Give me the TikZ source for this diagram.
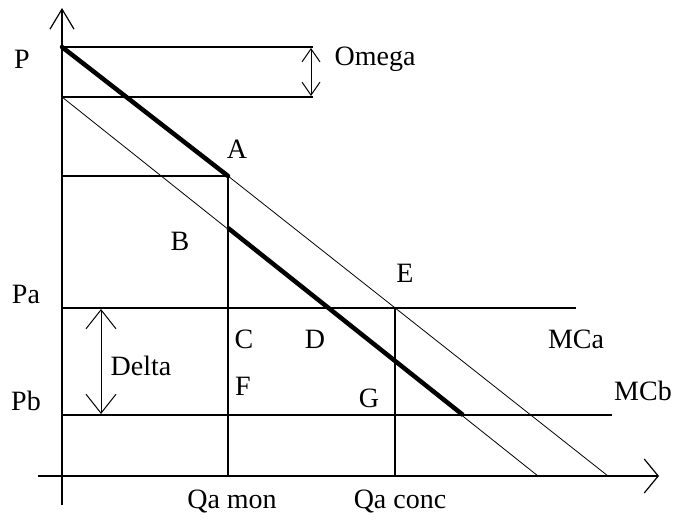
\documentclass[tikz,border=0pt]{standalone}
\usepackage{fontspec}
\setmainfont{Liberation Serif}
\usetikzlibrary{arrows.meta}

\begin{document}
\begin{tikzpicture}[
    x=1pt, y=-1pt,
    axis/.style={-{Straight Barb[length=20pt, width=24pt]}, line width=1.2pt},
    xaxis/.style={-{Straight Barb[length=14pt, width=34pt]}, line width=1.2pt},
    level/.style={line width=1.3pt},
    demand/.style={line width=0.8pt},
    bold/.style={line width=4.5pt},
    gap/.style={{Straight Barb[length=13pt, width=18pt]}-{Straight Barb[length=13pt, width=18pt]}, line width=1pt},
    biggap/.style={{Straight Barb[length=19pt, width=30pt]}-{Straight Barb[length=19pt, width=30pt]}, line width=1pt},
    lbl/.style={font=\fontsize{28}{32}\selectfont, inner sep=0pt}
]
\useasboundingbox (0,0) rectangle (675,524);

% Axes
\coordinate (ybot) at (62,505);
\coordinate (ytop) at (62,8);
\coordinate (xleft) at (38,476);
\coordinate (xright) at (659,476);
\draw[axis] (ybot) -- (ytop);
\draw[xaxis] (xleft) -- (xright);

% Points
\coordinate (P) at (62,47);
\coordinate (P2) at (62,97);
\coordinate (A) at (228,176);
\coordinate (B) at (228,228);
\coordinate (E) at (395,308);
\coordinate (D) at (329,308);
\coordinate (G) at (463,415);
\coordinate (endA) at (608,476);
\coordinate (endB) at (538,476);

% Omega band
\coordinate (om1) at (313,47);
\coordinate (om2) at (313,97);
\draw[level] (P) -- (om1);
\draw[level] (P2) -- (om2);
\draw[gap] (311,48) -- (311,96);

% Levels
\coordinate (PA) at (62,176);
\coordinate (Pa) at (62,308);
\coordinate (Pb) at (62,415);
\coordinate (MCa) at (576,308);
\coordinate (MCb) at (612,415);
\coordinate (Qmon) at (228,476);
\coordinate (Qconc) at (395,476);
\draw[level] (PA) -- (A);
\draw[level] (Pa) -- (MCa);
\draw[level] (Pb) -- (MCb);
\draw[level] (A) -- (Qmon);
\draw[level] (E) -- (Qconc);
\draw[biggap] (101,309) -- (101,414);

% Demand lines
\draw[demand] (A) -- (endA);
\draw[demand] (P2) -- (endB);
\draw[bold, line cap=round] (P) -- (A);
\draw[bold] (B) -- (G);

% Labels
\node[lbl] (lP) at (22,59) {P};
\node[lbl] (lOmega) at (375,59) {Omega};
\node[lbl] (lA) at (237,149) {A};
\node[lbl] (lB) at (180,241) {B};
\node[lbl] (lE) at (405,273) {E};
\node[lbl] (lPa) at (26,294) {Pa};
\node[lbl] (lC) at (244,339) {C};
\node[lbl] (lD) at (315,339) {D};
\node[lbl] (lMCa) at (576,339) {MCa};
\node[lbl] (lDelta) at (141,366) {Delta};
\node[lbl] (lF) at (243,386) {F};
\node[lbl] (lG) at (369,398) {G};
\node[lbl] (lPb) at (26,401) {Pb};
\node[lbl] (lMCb) at (643,391) {MCb};
\node[lbl] (lQmon) at (232,501) {Qa mon};
\node[lbl] (lQconc) at (400,501) {Qa conc};

\end{tikzpicture}
\end{document}
